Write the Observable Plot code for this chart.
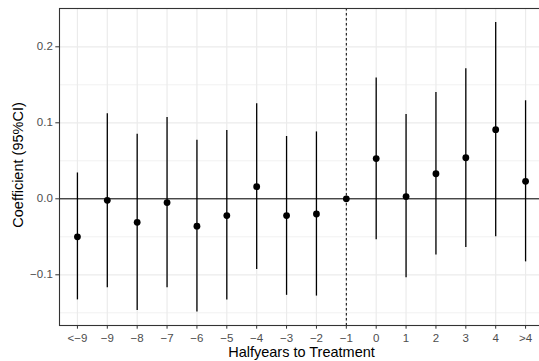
<!DOCTYPE html>
<html>
<head>
<meta charset="utf-8">
<script src="https://cdn.jsdelivr.net/npm/d3@7"></script>
<script src="https://cdn.jsdelivr.net/npm/@observablehq/plot@0.6"></script>
<style>
  body { margin: 0; background: white; overflow: hidden; }
</style>
</head>
<body>
<div id="chart"></div>
<script>
const cats = ["<\u22129", "\u22129", "\u22128", "\u22127", "\u22126", "\u22125", "\u22124", "\u22123", "\u22122", "\u22121", "0", "1", "2", "3", "4", ">4"];
const coef = [-0.050, -0.002, -0.031, -0.005, -0.036, -0.022, 0.016, -0.022, -0.020, 0, 0.053, 0.003, 0.033, 0.054, 0.091, 0.023];
const lower = [-0.133, -0.117, -0.147, -0.117, -0.149, -0.133, -0.093, -0.127, -0.128, 0, -0.054, -0.104, -0.074, -0.064, -0.050, -0.083];
const upper = [0.034, 0.112, 0.085, 0.107, 0.077, 0.090, 0.125, 0.082, 0.088, 0, 0.159, 0.111, 0.140, 0.171, 0.232, 0.129];
const yTicks = [-0.1, 0, 0.1, 0.2];
const yMinor = [-0.15, -0.05, 0.05, 0.15];
const refCat = "\u22121";
const xTitle = "Halfyears to Treatment";
const yTitle = "Coefficient (95%CI)";

const data = cats.map((c, i) => ({cat: c, coef: coef[i], lo: lower[i], hi: upper[i]}));

const chart = Plot.plot({
  width: 539,
  height: 361,
  marginLeft: 59,
  marginRight: -4,
  marginTop: 8,
  marginBottom: 36,
  style: {fontFamily: "'Liberation Sans', Arial, sans-serif", background: "white", overflow: "hidden"},
  x: {type: "point", domain: cats, padding: 0.6, round: false, range: [59, 543], label: null},
  y: {domain: [-0.1667, 0.2504], label: null},
  marks: [
    Plot.ruleY(yMinor, {stroke: "#ebebeb", strokeWidth: 0.7}),
    Plot.ruleY(yTicks, {stroke: "#ebebeb", strokeWidth: 1.2}),
    Plot.ruleX(cats, {stroke: "#ebebeb", strokeWidth: 1.2}),
    Plot.ruleY([0], {stroke: "#000", strokeWidth: 1}),
    Plot.ruleX([refCat], {stroke: "#000", strokeWidth: 1, strokeDasharray: "2.5,2.5"}),
    Plot.ruleX(data.filter(d => d.hi !== d.lo), {x: "cat", y1: "lo", y2: "hi", stroke: "#000", strokeWidth: 1.3}),
    Plot.dot(data, {x: "cat", y: "coef", r: 3.4, fill: "#000", stroke: "none"}),
    Plot.frame({stroke: "#333", strokeWidth: 1.1}),
    Plot.axisX({tickSize: 3.7, tickPadding: 4.3, fontSize: 11.5, color: "#4d4d4d", stroke: "#333", label: null}),
    Plot.axisY({ticks: yTicks, tickFormat: d3.format(".1f"), tickSize: 3.7, tickPadding: 3, fontSize: 11.5, color: "#4d4d4d", stroke: "#333", label: null}),
    Plot.text([xTitle], {frameAnchor: "bottom", dy: 31, fontSize: 14.5, fill: "#000", lineAnchor: "bottom", textAnchor: "middle"}),
    Plot.text([yTitle], {frameAnchor: "left", dx: -41, dy: -2, rotate: -90, fontSize: 14.5, fill: "#000", textAnchor: "middle"})
  ]
});
document.getElementById("chart").appendChild(chart);
</script>
</body>
</html>
